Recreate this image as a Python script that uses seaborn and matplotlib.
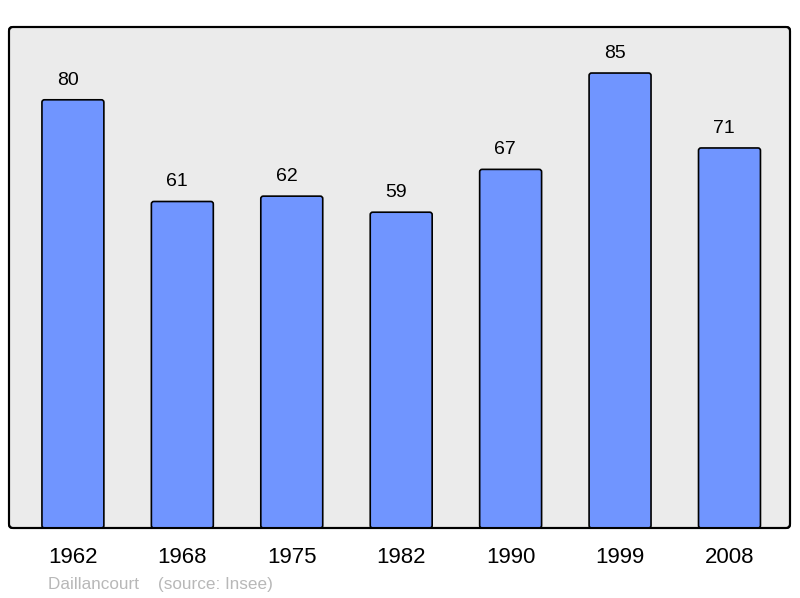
import matplotlib
matplotlib.use("Agg")
import matplotlib.pyplot as plt
import seaborn as sns
import pandas as pd
from matplotlib.patches import FancyBboxPatch

years = ["1962", "1968", "1975", "1982", "1990", "1999", "2008"]
population = [80, 61, 62, 59, 67, 85, 71]
town = "Daillancourt"
source = "(source: Insee)"

sns.set_style("white")
plt.rcParams['font.family'] = ['Liberation Sans', 'DejaVu Sans']
plt.rcParams['text.color'] = 'black'
plt.rcParams['xtick.color'] = 'black'

df = pd.DataFrame({"year": years, "pop": population})

W, H = 800, 598
fig = plt.figure(figsize=(8, 5.98), dpi=100)
ax = fig.add_axes([9/W, 70/H, 781/W, 501/H])
ax.set_facecolor("none")

sns.barplot(data=df, x="year", y="pop", ax=ax, color="#7095ff", saturation=1,
            width=0.566, edgecolor="black", linewidth=1.2)

ax.set_xlim(-0.584, 6.553)
ax.set_ylim(0, 93.6)
ax.set_yticks([])
ax.set_xlabel("")
ax.set_ylabel("")
ax.tick_params(axis="x", length=0, labelsize=16, pad=14, colors="black")
for s in ax.spines.values():
    s.set_visible(False)

# rounded axes frame
frame = FancyBboxPatch((0, 0), 1, 1, boxstyle="round,pad=0,rounding_size=0.005",
                       mutation_aspect=781/501, transform=ax.transAxes,
                       facecolor="#ebebeb", edgecolor="black", linewidth=1.5,
                       clip_on=False, zorder=0)
ax.add_patch(frame)
frame_edge = FancyBboxPatch((0, 0), 1, 1, boxstyle="round,pad=0,rounding_size=0.005",
                            mutation_aspect=781/501, transform=ax.transAxes,
                            facecolor="none", edgecolor="black", linewidth=1.5,
                            clip_on=False, zorder=5)
ax.add_patch(frame_edge)

# rounded bars
xpx = 781 / (6.553 + 0.584)
ypx = 501 / 93.6
r = 2.5 / xpx
for p in list(ax.patches):
    if p in (frame, frame_edge):
        continue
    x0, y0 = p.get_x(), p.get_y()
    w, h = p.get_width(), p.get_height()
    fb = FancyBboxPatch((x0, y0), w, h, boxstyle=f"round,pad=0,rounding_size={r}",
                        mutation_aspect=xpx / ypx, facecolor=p.get_facecolor(),
                        edgecolor="black", linewidth=1.2, zorder=2)
    p.set_visible(False)
    ax.add_patch(fb)

for i, v in enumerate(population):
    ax.annotate(str(v), (i, v), xytext=(-3.8, 8), textcoords="offset points",
                ha="center", va="bottom", fontsize=14, color="black")

fig.text(48/W, 1 - 584/H, town + "    " + source, color="#b8b8b8",
         fontsize=12.3, ha="left", va="center")

fig.savefig("out.png", dpi=100)
